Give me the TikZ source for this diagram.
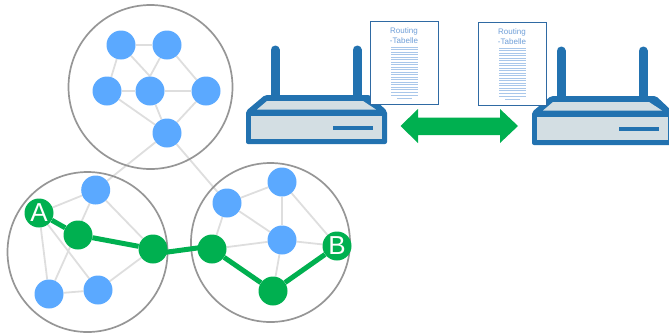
\documentclass[tikz,border=0pt]{standalone}
\usepackage{fontspec}
\setmainfont{Liberation Sans}
\pgfdeclarelayer{rings}
\pgfdeclarelayer{links}
\pgfdeclarelayer{route}
\pgfsetlayers{links,rings,route,main}
\definecolor{nodeblue}{HTML}{5BA9FF}
\definecolor{pathgreen}{HTML}{00B050}
\definecolor{ringgray}{HTML}{969696}
\definecolor{linkgray}{HTML}{DEDEDE}
\definecolor{routerblue}{HTML}{2272B0}
\definecolor{routerlight}{HTML}{D3DEE3}
\definecolor{docedge}{HTML}{2F6AA3}
\definecolor{doctext}{HTML}{6F9FD8}
\definecolor{docline}{HTML}{A9C7EA}
\tikzset{
  x=1pt,y=-1pt,
  host/.style={circle,fill=nodeblue,inner sep=0pt,minimum size=29pt},
  hop/.style={circle,fill=pathgreen,inner sep=0pt,minimum size=29pt},
  endpoint/.style={circle,fill=pathgreen,inner sep=0pt,minimum size=29pt,text=white,font=\fontsize{26}{26}\selectfont},
  ring/.style={circle,draw=ringgray,line width=1.7pt,inner sep=0pt},
  link/.style={draw=linkgray,line width=1.8pt},
  routeline/.style={draw=pathgreen,line width=5pt},
  doctitle/.style={text=doctext,font=\fontsize{8}{8}\selectfont,inner sep=0pt},
  routerpic/.pic={
    \draw[routerblue,line width=9pt,line cap=round] (275,50) -- (275,100);
    \draw[routerblue,line width=9pt,line cap=round] (357,50) -- (357,100);
    \fill[routerblue,rounded corners=2pt] (246,111) -- (265,95) -- (370,95) -- (387,111) -- (387,144) -- (246,144) -- cycle;
    \fill[routerlight] (267,101) -- (363,101) -- (376,109.5) -- (257,109.5) -- cycle;
    \fill[routerlight] (251,116) rectangle (382,139);
    \draw[routerblue,line width=4pt] (333,128) -- (373,128);
  },
  docpic/.pic={
    \draw[docedge,fill=white,line width=1pt] (370,21) rectangle (438,104);
    \node[doctitle] (-a) at (404,31) {Routing};
    \node[doctitle] (-b) at (404,40.5) {-Tabelle};
    \foreach \i in {0,...,19}{
      \draw[docline,line width=0.7pt] (391,47+2.52*\i) -- (418,47+2.52*\i);
    }
    \draw[docline,line width=0.6pt] (397,98) -- (412,98);
  }
}
\begin{document}
\begin{tikzpicture}
\useasboundingbox (0,0) rectangle (669,333);
% clusters
\begin{pgfonlayer}{rings}
\node[ring,minimum size=164pt] (ctop) at (150.5,87) {};
\node[ring,minimum size=160pt] (cleft) at (87.5,252) {};
\node[ring,minimum size=159pt] (cright) at (270.5,242.5) {};
\end{pgfonlayer}
% nodes
\node[host] (t1) at (121,45) {};
\node[host] (t2) at (167,45) {};
\node[host] (t3) at (107,91) {};
\node[host] (t4) at (150,91) {};
\node[host] (t5) at (206,91) {};
\node[host] (t6) at (167,133) {};
\node[host] (l1) at (95.7,190) {};
\node[host] (l2) at (49,294) {};
\node[host] (l3) at (98,290) {};
\node[host] (r1) at (227,203) {};
\node[host] (r2) at (282,182) {};
\node[host] (r3) at (282,240) {};
\node[endpoint] (A) at (39,213) {A};
\node[endpoint] (B) at (337,246) {B};
\node[hop] (g1) at (78,235) {};
\node[hop] (g2) at (153,249) {};
\node[hop] (g3) at (212,249) {};
\node[hop] (g4) at (273,291) {};
\begin{pgfonlayer}{links}
\draw[link] (t1) -- (t2);
\draw[link] (t1) -- (t3);
\draw[link] (t1) -- (t4.north);
\draw[link] (t2) -- (t4.north);
\draw[link] (t2) -- (t5);
\draw[link] (t3) -- (t4);
\draw[link] (t4) -- (t5);
\draw[link] (t3) -- (t6);
\draw[link] (t4) -- (t6);
\draw[link] (t5) -- (t6);
\draw[link] (t6) -- (l1);
\draw[link] (t6) -- (r1);
\draw[link] (l1) -- (A);
\draw[link] (l1) -- (l2);
\draw[link] (l1) -- (g2);
\draw[link] (A) -- (l2);
\draw[link] (A) -- (l3);
\draw[link] (g1) -- (g2);
\draw[link] (g2) -- (l3);
\draw[link] (l2) -- (l3);
\draw[link] (r1) -- (r2);
\draw[link] (r1) -- (r3);
\draw[link] (r2) -- (r3);
\draw[link] (r2) -- (B);
\draw[link] (r3) -- (B);
\draw[link] (r1) -- (g3);
\draw[link] (g3) -- (r3);
\draw[link] (r3) -- (g4);
\end{pgfonlayer}
\begin{pgfonlayer}{route}
\draw[routeline] (A) -- (g1);
\draw[routeline] (g1) -- (g2);
\draw[routeline] ([yshift=-5pt]g2.center) -- ([yshift=3pt]g3.center);
\draw[routeline] (g3) -- (g4);
\draw[routeline] (g4) -- (B);
\end{pgfonlayer}
% routers and tables
\pic at (0,0) {routerpic};
\pic at (286,1) {routerpic};
\pic (doca) at (0,0) {docpic};
\pic (docb) at (108,1) {docpic};
% double arrow
\fill[pathgreen] (400.5,126) -- (418,109) -- (418,117.5) -- (500,117.5) -- (500,109) -- (518,126) -- (500,143) -- (500,135) -- (418,135) -- (418,143) -- cycle;
\end{tikzpicture}
\end{document}
